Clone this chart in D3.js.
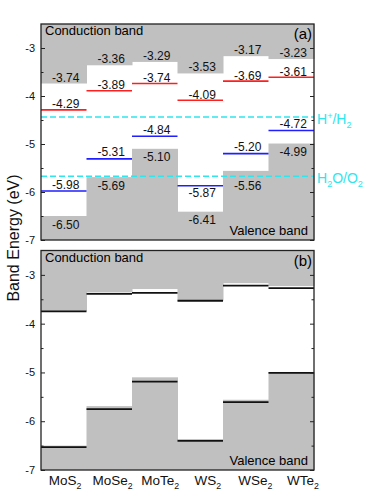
<!DOCTYPE html>
<html>
<head>
<meta charset="utf-8">
<script src="https://d3js.org/d3.v7.min.js"></script>
<style>
  body { margin: 0; background: #fff; }
  svg { font-family: "Liberation Sans", Arial, sans-serif; }
</style>
</head>
<body>
<script>
// materials (the "2" subscript is added when drawing)
const materials = ['MoS', 'MoSe', 'MoTe', 'WS', 'WSe', 'WTe'];

// panel (a)
const cbm = [-3.74, -3.36, -3.29, -3.53, -3.17, -3.23];
const vbm = [-6.50, -5.69, -5.10, -6.41, -5.56, -4.99];
const redLevels = [-4.29, -3.89, -3.74, -4.09, -3.69, -3.61];
const blueLevels = [-5.98, -5.31, -4.84, -5.87, -5.20, -4.72];

// panel (b) black edge lines
const cbmLine = [-3.75, -3.39, -3.37, -3.53, -3.22, -3.27];
const vbmLine = [-6.53, -5.75, -5.19, -6.40, -5.61, -5.01];

// water redox potentials
const redoxNames = [
  [{t: 'H'}, {t: '+', sup: true}, {t: '/H'}, {t: '2', sub: true}],
  [{t: 'H'}, {t: '2', sub: true}, {t: 'O/O'}, {t: '2', sub: true}]
];
const redoxValues = [-4.44, -5.67];

const yTicks = [-7, -6, -5, -4, -3];
const yMinor = [-6.5, -5.5, -4.5, -3.5];
const yDomain = [-7, -2.5];

const W = 383, H = 495;
const left = 41, right = 314;
const gray = '#c0c0c0', red = '#ff1f1f', blue = '#1f1fff', cyan = '#2ee6ee';

const svg = d3.select('body').append('svg').attr('width', W).attr('height', H);

const x = d3.scaleBand().domain(materials).range([left, right]).padding(0);
const xLab = d3.scalePoint().domain(materials).range([65, 303]);

const yA = d3.scaleLinear().domain(yDomain).range([240, 24]);
const yB = d3.scaleLinear().domain(yDomain).range([470, 250.5]);

function fmt(v) { return v.toFixed(2); }

function addRich(sel, parts, size) {
  let shift = 0;
  parts.forEach(p => {
    const want = p.sup ? -5 : (p.sub ? 4 : 0);
    sel.append('tspan')
      .attr('dy', want - shift)
      .attr('font-size', (p.sup || p.sub) ? size * 0.65 : size)
      .text(p.t);
    shift = want;
  });
}

function drawGray(g, y) {
  const top = y.range()[1], bot = y.range()[0];
  g.selectAll('rect.cb').data(materials).join('rect').attr('class', 'cb')
    .attr('x', d => x(d)).attr('width', x.bandwidth() + 0.5)
    .attr('y', top).attr('height', (d, i) => y(cbm[i]) - top)
    .attr('fill', gray);
  g.selectAll('rect.vb').data(materials).join('rect').attr('class', 'vb')
    .attr('x', d => x(d)).attr('width', x.bandwidth() + 0.5)
    .attr('y', (d, i) => y(vbm[i])).attr('height', (d, i) => bot - y(vbm[i]))
    .attr('fill', gray);
}

function drawLevels(g, y, values, color, width) {
  g.selectAll(null).data(values).join('line')
    .attr('x1', (d, i) => x(materials[i])).attr('x2', (d, i) => x(materials[i]) + x.bandwidth())
    .attr('y1', d => y(d)).attr('y2', d => y(d))
    .attr('stroke', color).attr('stroke-width', width);
}

function drawFrame(g, y, tag) {
  const top = y.range()[1], bot = y.range()[0];
  const ax = g.append('g').attr('transform', `translate(${left},0)`)
    .call(d3.axisLeft(y).tickValues(yTicks).tickSize(-4).tickPadding(6).tickFormat(d => String(d)));
  ax.select('.domain').remove();
  ax.selectAll('text').attr('font-size', 11).attr('font-family', null).attr('fill', '#111');
  const axm = g.append('g').attr('transform', `translate(${left},0)`)
    .call(d3.axisLeft(y).tickValues(yMinor).tickSize(-2.5).tickFormat(''));
  axm.select('.domain').remove();
  const ar = g.append('g').attr('transform', `translate(${right},0)`)
    .call(d3.axisRight(y).tickValues(yTicks).tickSize(-4).tickFormat(''));
  ar.select('.domain').remove();
  const arm = g.append('g').attr('transform', `translate(${right},0)`)
    .call(d3.axisRight(y).tickValues(yMinor).tickSize(-2.5).tickFormat(''));
  arm.select('.domain').remove();
  g.selectAll('.tick line').attr('stroke', '#222');

  g.append('rect').attr('x', left).attr('y', top).attr('width', right - left).attr('height', bot - top)
    .attr('fill', 'none').attr('stroke', '#222').attr('stroke-width', 1.3);

  g.append('text').attr('x', left + 4).attr('y', top + 11).attr('font-size', 13).text('Conduction band');
  g.append('text').attr('x', right - 2).attr('y', top + 15).attr('font-size', 15)
    .attr('text-anchor', 'end').text(tag);
  g.append('text').attr('x', right - 6).attr('y', bot - 5).attr('font-size', 13)
    .attr('text-anchor', 'end').text('Valence band');
}

// ---------- panel (a)
const gA = svg.append('g');
drawGray(gA, yA);

redoxValues.forEach((v, k) => {
  gA.append('line').attr('x1', left).attr('x2', right).attr('y1', yA(v)).attr('y2', yA(v))
    .attr('stroke', cyan).attr('stroke-width', 1.5).attr('stroke-dasharray', '6,3');
  const t = gA.append('text').attr('x', right + 3).attr('y', yA(v) + 7).attr('fill', cyan);
  addRich(t, redoxNames[k], 14);
});

drawLevels(gA, yA, redLevels, red, 1.6);
drawLevels(gA, yA, blueLevels, blue, 1.6);

const cx = d => x(d) + x.bandwidth() / 2 + 2;
const labA = gA.append('g').attr('font-size', 12).attr('text-anchor', 'middle').attr('fill', '#111');

function nearRedoxAbove(py) {
  return redoxValues.some(r => py - yA(r) > 0 && py - yA(r) < 12);
}
function redoxBelow(py) {
  const r = redoxValues.find(r => yA(r) - py > 0 && yA(r) - py < 16);
  return r === undefined ? null : yA(r);
}

materials.forEach((m, i) => {
  labA.append('text').attr('x', cx(m)).attr('y', yA(cbm[i]) - 2).text(fmt(cbm[i]));
  labA.append('text').attr('x', cx(m)).attr('y', yA(redLevels[i]) - 1.5).text(fmt(redLevels[i]));
  const by = yA(blueLevels[i]);
  labA.append('text').attr('x', cx(m)).attr('y', nearRedoxAbove(by) ? by + 11 : by - 2.5).text(fmt(blueLevels[i]));
  const vy = yA(vbm[i]);
  const rb = redoxBelow(vy);
  labA.append('text').attr('x', cx(m)).attr('y', rb === null ? vy + 12.5 : rb + 14).text(fmt(vbm[i]));
});

drawFrame(gA, yA, '(a)');

// ---------- panel (b)
const gB = svg.append('g');
drawGray(gB, yB);
drawLevels(gB, yB, cbmLine, '#111', 1.8);
drawLevels(gB, yB, vbmLine, '#111', 1.8);
drawFrame(gB, yB, '(b)');

// x labels
materials.forEach(m => {
  const t = svg.append('text').attr('x', xLab(m)).attr('y', 484.5).attr('text-anchor', 'middle').attr('fill', '#111');
  addRich(t, [{t: m}, {t: '2', sub: true}], 13.5);
});

// y title
svg.append('text').attr('transform', 'translate(19,238) rotate(-90)')
  .attr('text-anchor', 'middle').attr('font-size', 16).attr('fill', '#111')
  .text('Band Energy (eV)');
</script>
</body>
</html>
